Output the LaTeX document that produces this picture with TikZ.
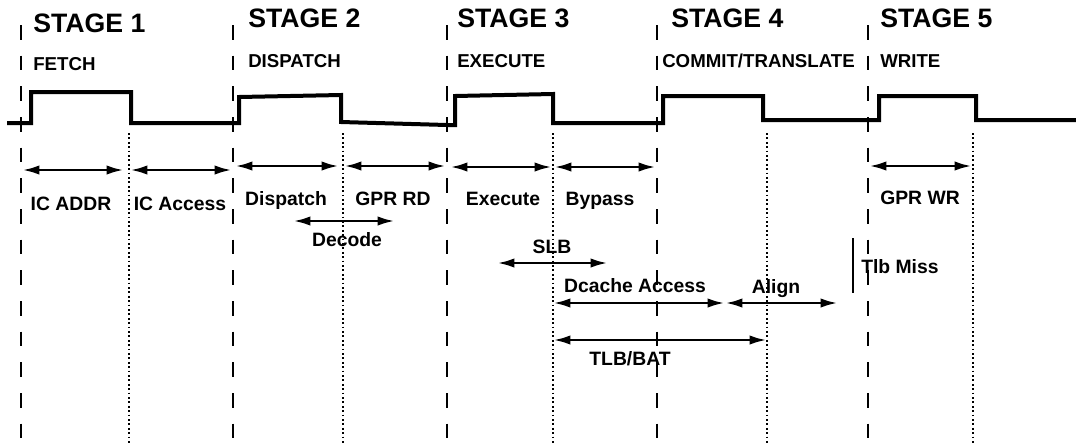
\documentclass[tikz,border=0pt]{standalone}
\usepackage{fontspec}
\setmainfont{Liberation Sans}[BoldFont={Liberation Sans Bold}]
\usetikzlibrary{arrows.meta}

\begin{document}
\begin{tikzpicture}[x=0.75pt,y=-0.75pt,>={Latex[length=13pt,width=7pt]}] % coordinate in pixel
    % Stili per linee, frecce e testi
    \tikzset{
        fase/.style={line width=2.2pt, dash pattern=on 11pt off 12pt},
        sottofase/.style={line width=1.6pt, dash pattern=on 1.4pt off 1.9pt},
        clock/.style={line width=3pt, line join=miter},
        freccia/.style={<->, line width=2.2pt},
        titolo/.style={anchor=base west, inner sep=0pt, font=\bfseries\fontsize{20}{22}\selectfont},
        nomefase/.style={anchor=base west, inner sep=0pt, font=\bfseries\fontsize{14}{16}\selectfont},
        etichetta/.style={anchor=base, inner sep=0pt, font=\bfseries\fontsize{14.5}{16}\selectfont}
    }
    \useasboundingbox (0,0) rectangle (1076,444);

    % --- Confini degli stadi (tratteggiati) ---
    \foreach \x in {21,233,447,657,868}
        \draw[fase] (\x,25) -- (\x,444);

    % --- Confini dei mezzi cicli (punteggiati) ---
    \foreach \x in {129,343,553,767,973}
        \draw[sottofase] (\x,133) -- (\x,444);

    % --- Titoli degli stadi ---
    \node[titolo] (st1) at (33,32) {STAGE 1};
    \node[titolo] (st2) at (248,27) {STAGE 2};
    \node[titolo] (st3) at (457,27) {STAGE 3};
    \node[titolo] (st4) at (671,27) {STAGE 4};
    \node[titolo] (st5) at (880,27) {STAGE 5};

    \node[nomefase] (fetch) at (33,70) {FETCH};
    \node[nomefase] (disp) at (248,67) {DISPATCH};
    \node[nomefase] (exec) at (457,67) {EXECUTE};
    \node[nomefase] (commit) at (662,67) {COMMIT/TRANSLATE};
    \node[nomefase] (write) at (880,67) {WRITE};

    % --- Segnale di clock ---
    \draw[clock] (7,123) -- (31,123) -- (31,92) -- (131,92) -- (131,123)
        -- (239,123) -- (239,97) -- (341,95) -- (341,122) -- (447,125) -- (455,125)
        -- (455,96) -- (553,94) -- (553,123) -- (663,123) -- (663,96) -- (763,96)
        -- (763,120) -- (879,120) -- (879,96) -- (976,96) -- (976,120) -- (1076,120);

    % --- Prima riga: operazioni per mezzo ciclo ---
    \draw[freccia] (22,170) -- (124,170);
    \draw[freccia] (130,170) -- (232,170);
    \draw[freccia] (235,166) -- (339,166);
    \draw[freccia] (344,166) -- (446,166);
    \draw[freccia] (450,167) -- (552,167);
    \draw[freccia] (554,167) -- (656,167);
    \draw[freccia] (869,166) -- (972,166);

    \node[etichetta] (icaddr) at (71,210) {IC ADDR};
    \node[etichetta] (icacc) at (180,210) {IC Access};
    \node[etichetta] (dispatch) at (286,205) {Dispatch};
    \node[etichetta] (gprrd) at (393,205) {GPR RD};
    \node[etichetta] (execute) at (503,205) {Execute};
    \node[etichetta] (bypass) at (600,205) {Bypass};
    \node[etichetta] (gprwr) at (920,204) {GPR WR};

    % --- Operazioni a cavallo ---
    \draw[freccia] (293,221) -- (395,221);
    \node[etichetta] (decode) at (347,246) {Decode};

    \draw[freccia] (497,263) -- (608,263);
    \node[etichetta] (slb) at (552,253) {SLB};

    \draw[freccia] (553,303) -- (725,303);
    \draw[freccia] (725,303) -- (838,303);
    \node[etichetta] (dcache) at (635,292) {Dcache Access};
    \node[etichetta] (align) at (776,293) {Align};

    \draw[freccia] (553,340) -- (767,340);
    \node[etichetta] (tlbbat) at (630,365) {TLB/BAT};

    % Tlb miss
    \draw[line width=2pt] (853,238) -- (853,293);
    \node[etichetta, anchor=base west] (tlbmiss) at (861,273) {Tlb Miss};

\end{tikzpicture}
\end{document}
